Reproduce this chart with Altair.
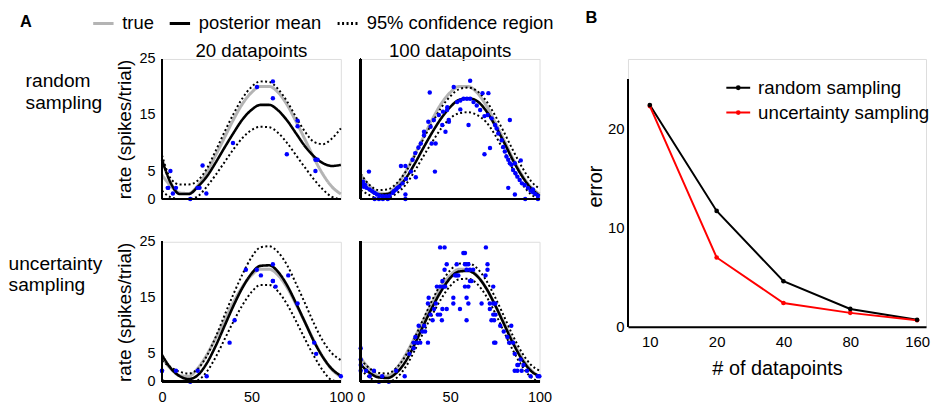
import altair as alt
import pandas as pd

FONT = "Liberation Sans"

# ---------------- Panel A data ----------------
ROWS = ["random sampling", "uncertainty sampling"]
COLS = ["20 datapoints", "100 datapoints"]
X_GRID = [0, 5, 10, 15, 20, 25, 30, 35, 40, 45, 50, 55, 60, 65, 70, 75, 80, 85, 90, 95, 100]
TRUE_RATE = [4.3, 2.3, 1.1, 1.0, 2.4, 4.8, 7.8, 11.0, 14.2, 17.0, 19.0, 20.1, 20.1, 19.0, 16.8, 13.8, 10.6, 7.3, 4.4, 2.2, 0.9]

# random sampling, 20 datapoints
TL_MEAN = [7.0, 2.8, 0.9, 0.9, 2.2, 4.0, 6.5, 9.2, 11.8, 14.2, 15.9, 16.8, 16.8, 15.8, 14.0, 11.7, 9.4, 7.6, 6.4, 5.9, 6.1]
TL_UPPER = [7.8, 3.6, 2.6, 2.6, 3.3, 5.4, 8.6, 12.0, 15.2, 18.0, 20.0, 21.0, 20.9, 19.6, 17.4, 14.6, 12.0, 10.2, 9.8, 10.8, 12.6]
TL_LOWER = [1.5, 0.3, 0.0, 0.0, 0.5, 2.2, 4.3, 6.6, 8.9, 10.9, 12.3, 12.9, 12.8, 11.8, 10.0, 7.8, 5.6, 3.5, 1.7, 0.4, 0.0]
TL_DOT_X = [3.2, 4.7, 6.1, 7.8, 15.8, 19.9, 21.0, 22.7, 24.8, 39.7, 53.1, 62.0, 62.0, 69.8, 75.8, 75.8, 85.8, 87.0, 85.8, 3.5]
TL_DOT_Y = [2, 5, 1, 2, 0, 2, 2, 6, 1, 10, 20, 21, 18, 8, 14, 13, 7, 7, 5, 2]

# random sampling, 100 datapoints
TR_MEAN = [3.0, 1.6, 0.8, 0.9, 1.9, 3.6, 6.2, 9.1, 11.9, 14.4, 16.4, 17.7, 18.0, 17.5, 15.8, 13.2, 10.2, 7.0, 4.2, 2.0, 0.6]
TR_UPPER = [4.5, 2.5, 1.6, 1.7, 2.8, 4.8, 7.6, 10.7, 13.6, 16.3, 18.3, 19.6, 19.9, 19.3, 17.6, 15.0, 12.0, 8.8, 5.8, 3.3, 1.8]
TR_LOWER = [1.6, 0.7, 0.1, 0.2, 1.0, 2.5, 4.9, 7.6, 10.2, 12.6, 14.4, 15.3, 15.5, 15.0, 13.8, 11.5, 8.6, 5.4, 2.8, 0.9, 0.0]
TR_DOT_X = [4.6, 1.3, 1.7, 3.2, 5.0, 6.5, 7.8, 9.1, 10.5, 12.4, 14.2, 16.1, 17.9, 19.8, 21.6, 23.4, 25.3,
            7.8, 10.2, 12.4, 15.1, 25.0, 25.0, 22.5, 25.0, 30.8, 28.1, 29.0, 30.5, 32.3, 33.6, 35.4, 35.4,
            37.8, 39.1, 40.9, 39.7, 41.9, 41.5, 43.7, 45.6, 47.4, 46.0, 48.4, 49.3, 38.6,
            48.3, 49.2, 52.0, 53.9, 55.7, 57.5, 59.4, 61.2, 61.2, 55.7, 60.3, 63.1, 64.9, 66.8, 68.1, 71.4,
            69.2, 71.0, 73.2, 75.1, 76.0, 83.4, 72.3, 69.2, 76.9, 78.8, 79.7, 80.6, 81.5, 82.5, 83.4, 84.3,
            85.2, 86.5, 87.6, 88.9, 90.2, 91.7, 93.5, 95.0, 96.3, 97.6, 99.1, 89.5, 86.2, 82.5, 86.2, 92.0,
            96.3, 99.1, 0.5, 2.5, 18.5, 20.5]
TR_DOT_Y = [4.9, 3.1, 2.2, 2.0, 1.7, 1.4, 1.1, 0.8, 0.6, 0.5, 0.5, 0.6, 1.1, 1.7, 2.2, 2.8, 3.6,
            0.0, 0.0, 0.0, 0.0, 0.0, 0.8, 5.9, 5.9, 3.9, 4.9, 7.0, 8.2, 9.2, 9.9, 11.4, 12.0,
            13.8, 12.9, 14.1, 9.9, 9.9, 4.9, 15.0, 13.2, 12.0, 15.6, 16.4, 13.8, 19.0,
            15.9, 14.1, 20.0, 17.3, 17.6, 17.9, 17.9, 17.9, 21.1, 16.0, 13.2, 17.3, 16.7, 15.9, 18.9, 18.9,
            14.8, 15.0, 14.4, 13.2, 12.6, 14.1, 9.1, 8.0, 11.7, 10.5, 9.3, 8.5, 7.6, 7.0, 6.4, 6.1,
            5.2, 4.6, 4.0, 3.4, 2.8, 2.5, 2.0, 1.5, 1.2, 0.9, 0.6, 6.9, 6.4, 2.0, 0.8, 0.0,
            1.7, 0.0, 2.8, 2.5, 1.4, 2.0]

# uncertainty sampling, 20 datapoints
BL_MEAN = [4.8, 2.4, 1.0, 0.5, 1.2, 3.3, 6.4, 10.0, 13.6, 16.8, 19.3, 20.7, 20.8, 19.6, 17.2, 14.0, 10.6, 7.2, 4.4, 2.3, 1.1]
BL_UPPER = [3.8, 2.6, 1.8, 1.5, 2.3, 4.6, 8.0, 11.9, 15.7, 19.2, 22.2, 24.0, 24.2, 23.1, 20.8, 17.5, 14.0, 10.4, 7.3, 5.1, 3.9]
BL_LOWER = [0.3, 0.0, 0.0, 0.0, 0.3, 1.8, 4.4, 7.6, 10.8, 13.7, 16.0, 17.3, 17.3, 16.1, 13.8, 10.8, 7.6, 4.6, 2.0, 0.3, 0.0]
BL_DOT_X = [0.0, 7.8, 15.8, 20.0, 25.0, 37.8, 40.6, 46.9, 53.0, 55.3, 62.0, 62.0, 63.5, 70.6, 75.8, 85.1, 86.2, 100.0, 0.0, 62.0]
BL_DOT_Y = [2, 2, 0, 2, 1, 7, 11, 20, 20, 19, 21, 18, 17, 19, 14, 7, 5, 1, 2, 18]

# uncertainty sampling, 100 datapoints
BR_MEAN = [3.1, 1.6, 0.8, 0.7, 1.6, 3.6, 6.6, 10.0, 13.3, 16.2, 18.5, 19.7, 19.8, 18.9, 16.8, 13.8, 10.4, 7.0, 4.1, 2.0, 1.0]
BR_UPPER = [4.0, 2.4, 1.6, 1.5, 2.5, 4.6, 7.7, 11.2, 14.6, 17.6, 19.9, 21.1, 21.2, 20.3, 18.2, 15.2, 11.8, 8.3, 5.3, 3.1, 2.0]
BR_LOWER = [2.2, 0.8, 0.0, 0.0, 0.7, 2.6, 5.5, 8.8, 12.0, 14.8, 17.1, 18.3, 18.4, 17.5, 15.4, 12.4, 9.0, 5.7, 2.9, 0.9, 0.0]
BR_DOT_X = [0.0, 0.0, 0.0, 0.0, 7.4, 10.2, 12.0, 15.7, 19.8, 24.6, 27.2, 29.6, 29.6, 30.6, 32.4, 31.5, 33.3,
            37.6, 40.2, 37.6, 38.0, 43.1, 44.4, 45.4, 45.7, 48.1, 42.6, 44.4, 46.3, 47.2, 45.7, 46.9, 48.1,
            44.4, 46.9,
            51.8, 51.8, 53.7, 52.8, 53.7, 54.6, 55.5, 57.4, 58.3, 58.3, 59.2, 60.2, 59.2, 61.1, 62.9, 58.3,
            60.2, 59.2, 60.2, 59.2, 62.0, 61.1, 70.0, 70.9, 70.9, 69.8, 74.1, 67.6, 72.2, 74.1, 75.3, 72.2,
            74.1, 75.3, 73.1, 74.6, 84.2, 74.6, 75.3, 85.2, 86.1, 89.4, 87.6, 86.1, 87.6, 99.0, 99.9,
            34.5, 35.5, 36.0, 39.0, 41.0, 42.0, 78.0, 80.0, 82.0, 83.0, 88.0, 90.0, 91.0, 93.0, 95.0, 5.0, 3.0]
BR_DOT_Y = [6, 4, 3, 2, 2, 0, 1, 0, 2, 1, 5, 6, 7, 8, 10, 7, 7,
            7, 11, 14, 15, 12, 12, 11, 13, 13, 17, 17, 17, 17, 18, 20, 21,
            24, 24,
            15, 14, 21, 19, 19, 19, 13, 23, 23, 21, 21, 21, 20, 20, 20, 17,
            17, 15, 14, 11, 18, 18, 24, 21, 20, 19, 17, 14, 14, 14, 14, 13,
            12, 12, 11, 11, 10, 7, 7, 7, 5, 4, 3, 2, 2, 1, 1,
            9, 10, 9, 12, 13, 14, 10, 9, 8, 7, 3, 2, 3, 2, 1, 1, 2]

KINDS = ["true", "posterior mean", "95% confidence region"]
KIND_COLORS = ["#b4b4b4", "#000000", "#000000"]
KIND_DASH = [[1, 0], [1, 0], [2, 2.5]]

# ---------------- Panel B data ----------------
B_N = [10, 20, 40, 80, 160]
RANDOM_ERR = [22.4, 11.7, 4.6, 1.8, 0.7]
UNCERT_ERR = [22.3, 7.0, 2.4, 1.4, 0.65]
METHODS = ["random sampling", "uncertainty sampling"]
METHOD_COLORS = ["#000000", "#ff0000"]
B_X_DOMAIN = [7.97, 175.6]
B_Y_TOP = 27.06     # plot area reaches above the error axis, which stops at 25
B_Y_AXIS_END = 25

# ---------------- build panel A table ----------------
PANELS = [
    (ROWS[0], COLS[0], TL_MEAN, TL_UPPER, TL_LOWER, TL_DOT_X, TL_DOT_Y),
    (ROWS[0], COLS[1], TR_MEAN, TR_UPPER, TR_LOWER, TR_DOT_X, TR_DOT_Y),
    (ROWS[1], COLS[0], BL_MEAN, BL_UPPER, BL_LOWER, BL_DOT_X, BL_DOT_Y),
    (ROWS[1], COLS[1], BR_MEAN, BR_UPPER, BR_LOWER, BR_DOT_X, BR_DOT_Y),
]
rows = []
for r, c, mean, upper, lower, dxs, dys in PANELS:
    for s, kind, vals in [("true", KINDS[0], TRUE_RATE), ("upper", KINDS[2], upper),
                          ("lower", KINDS[2], lower), ("mean", KINDS[1], mean)]:
        for x, v in zip(X_GRID, vals):
            rows.append({"row": r, "col": c, "x": x, "rate": v, "kind": kind, "series": s})
    for x, v in zip(dxs, dys):
        rows.append({"row": r, "col": c, "x": x, "rate": v, "kind": "data", "series": "dots"})
adf = pd.DataFrame(rows)

LEGEND_A = alt.Legend(
    title="A", titleOrient="left", titleFontWeight="bold", titleFontSize=16.5,
    titlePadding=60, titleFont=FONT,
    orient="none", legendX=-143, legendY=-48, direction="horizontal",
    symbolType="stroke", symbolSize=420, symbolStrokeWidth=3,
    labelFontSize=18.5, labelFont=FONT, labelOffset=7, columnPadding=9,
    labelLimit=400, padding=0,
)

xenc = alt.X("x:Q", scale=alt.Scale(domain=[0, 100], nice=False, zero=False),
             axis=alt.Axis(values=[0, 50, 100], title=None, ticks=False, grid=False, domain=False,
                           labelFontSize=14.5, labelPadding=4, labelFlush=False))
yenc = alt.Y("rate:Q", scale=alt.Scale(domain=[0, 25], nice=False),
             axis=alt.Axis(values=[0, 5, 15, 25], title="rate (spikes/trial)", ticks=False, grid=False,
                           domain=False, labelFontSize=14.5, labelPadding=0, titleFontSize=19,
                           titleFontWeight="normal", titlePadding=5))
color = alt.Color("kind:N", scale=alt.Scale(domain=KINDS, range=KIND_COLORS), legend=LEGEND_A)
dash = alt.StrokeDash("kind:N", scale=alt.Scale(domain=KINDS, range=KIND_DASH), legend=LEGEND_A)

base = alt.Chart()
true_l = base.transform_filter("datum.series == 'true'").mark_line(
    strokeWidth=3, interpolate="monotone").encode(x=xenc, y=yenc, color=color, strokeDash=dash)
ci_l = base.transform_filter("datum.series == 'upper' || datum.series == 'lower'").mark_line(
    strokeWidth=2, interpolate="monotone").encode(x=xenc, y=yenc, color=color, strokeDash=dash,
                                                 detail="series:N")
mean_l = base.transform_filter("datum.series == 'mean'").mark_line(
    strokeWidth=2.6, interpolate="monotone").encode(x=xenc, y=yenc, color=color, strokeDash=dash)
dots = base.transform_filter("datum.series == 'dots'").mark_circle(
    size=20, color="#0000ff", opacity=1).encode(x=xenc, y=yenc)
x_line = base.mark_rule(color="black", strokeWidth=2).encode(y=alt.datum(0))
y_line = base.mark_rule(color="black", strokeWidth=2).encode(x=alt.datum(0))

# row labels: two words on two lines, pushed down from the top of each row by leading blank lines
ROW_LABEL_EXPR = ("['', '', '', '', '', '', split(datum.value, ' ')[0], split(datum.value, ' ')[1]]")

block_a = alt.layer(true_l, ci_l, mean_l, dots, x_line, y_line, data=adf).properties(
    width=180, height=141
).facet(
    row=alt.Row("row:N", sort=ROWS, header=alt.Header(
        title=None, labelOrient="left", labelAngle=0, labelAlign="left", labelAnchor="end",
        labelBaseline="middle", labelFontSize=19.3, labelFont=FONT, labelLineHeight=22,
        labelPadding=13, labelExpr=ROW_LABEL_EXPR, labelColor="black")),
    column=alt.Column("col:N", sort=COLS, header=alt.Header(
        title=None, labelFontSize=18.8, labelFont=FONT, labelPadding=-19,
        labelBaseline="alphabetic", labelColor="black")),
    spacing={"row": 36, "column": 6},
)

# ---------------- Panel B chart ----------------
bdf = pd.DataFrame({
    "n": B_N * 2,
    "err": RANDOM_ERR + UNCERT_ERR,
    "method": [METHODS[0]] * len(B_N) + [METHODS[1]] * len(B_N),
})
bx = alt.X("n:Q", scale=alt.Scale(type="log", domain=B_X_DOMAIN, nice=False),
           axis=alt.Axis(values=B_N, format="d", title="# of datapoints", ticks=False, grid=False,
                         domainColor="black", domainWidth=2, labelFontSize=15, labelPadding=8,
                         titleFontSize=20, titleFontWeight="normal", titlePadding=9, labelFlush=False))
by = alt.Y("err:Q", scale=alt.Scale(domain=[0, B_Y_TOP], nice=False),
           axis=alt.Axis(values=[0, 10, 20], title="error", ticks=False, grid=False, domain=False,
                         labelFontSize=15, labelPadding=4,
                         titleFontSize=20, titleFontWeight="normal", titlePadding=2, titleY=128))
LEG_SYM = "M-1,0H1M-0.12,0A0.12,0.12,0,1,1,0.12,0A0.12,0.12,0,1,1,-0.12,0"
bcolor = alt.Color("method:N", scale=alt.Scale(domain=METHODS, range=METHOD_COLORS),
                   legend=alt.Legend(title=None, orient="none", legendX=98, legendY=16,
                                     symbolType=LEG_SYM, symbolSize=576, symbolStrokeWidth=2,
                                     labelFontSize=18.8, labelFont=FONT, labelOffset=7,
                                     labelLimit=400, rowPadding=2, padding=0))
b_axis = alt.Chart(bdf).mark_rule(color="black", strokeWidth=2).encode(
    x=alt.X(datum=B_X_DOMAIN[0], type="quantitative"),
    y=alt.Y(datum=0, type="quantitative"), y2=alt.datum(B_Y_AXIS_END))
b_lines = alt.Chart(bdf).mark_line(strokeWidth=2).encode(x=bx, y=by, color=bcolor, detail="method:N")
b_pts_r = alt.Chart(bdf).transform_filter(f"datum.method == '{METHODS[0]}'").mark_circle(
    size=22, color=METHOD_COLORS[0], opacity=1).encode(x=bx, y=by)
b_pts_u = alt.Chart(bdf).transform_filter(f"datum.method == '{METHODS[1]}'").mark_circle(
    size=22, color=METHOD_COLORS[1], opacity=1).encode(x=bx, y=by)
block_b = alt.layer(b_lines, b_pts_u, b_pts_r, b_axis).properties(
    width=300, height=269.5,
    title=alt.TitleParams("B", anchor="start", fontSize=16.5, fontWeight="bold", font=FONT, offset=33))

chart = alt.hconcat(block_a, block_b, spacing=30).resolve_scale(
    color="independent", strokeDash="independent").resolve_legend(
    color="independent", strokeDash="independent").properties(
    padding={"left": 0, "top": 0, "right": 0, "bottom": 0}
).configure_view(stroke=None).configure(font=FONT).configure_axis(
    labelFont=FONT, titleFont=FONT, labelColor="black", titleColor="black")

chart.save("out.html", embed_options={"renderer": "svg", "actions": False})
